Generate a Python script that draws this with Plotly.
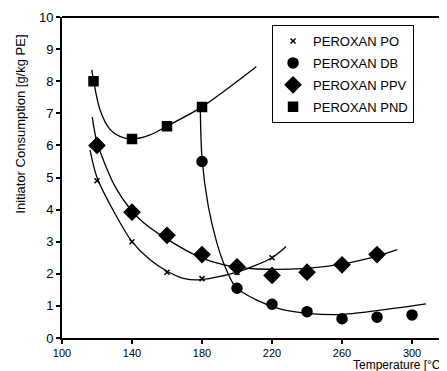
import plotly.graph_objects as go

# Measured points
po_x = [120, 140, 160, 180, 200, 220]
po_y = [4.9, 3.0, 2.05, 1.85, 2.05, 2.5]
db_x = [180, 200, 220, 240, 260, 280, 300]
db_y = [5.5, 1.55, 1.05, 0.82, 0.6, 0.65, 0.72]
ppv_x = [120, 140, 160, 180, 200, 220, 240, 260, 280]
ppv_y = [6.0, 3.92, 3.2, 2.6, 2.22, 1.95, 2.05, 2.28, 2.6]
pnd_x = [118, 140, 160, 180]
pnd_y = [8.0, 6.2, 6.6, 7.2]

# Fitted curves
po_cx = [116, 120, 130, 140, 150, 160, 170, 180, 200, 220, 228]
po_cy = [5.86, 5.0, 3.9, 3.0, 2.45, 2.08, 1.85, 1.82, 2.05, 2.5, 2.85]
db_cx = [179, 180, 183.6, 188.4, 192.6, 199, 211.6, 225, 240, 259, 280, 308]
db_cy = [7.2, 5.6, 4.1, 2.98, 2.3, 1.6, 1.17, 0.9, 0.77, 0.73, 0.85, 1.06]
ppv_cx = [117.3, 120, 130, 140, 146.5, 160, 179, 192.6, 211.6, 240, 260, 280, 291.6]
ppv_cy = [6.88, 6.1, 4.75, 3.95, 3.6, 3.08, 2.51, 2.28, 2.15, 2.17, 2.3, 2.55, 2.75]
pnd_cx = [117, 121.7, 127.4, 133, 140, 150, 160, 180, 211]
pnd_cy = [8.35, 7.11, 6.5, 6.28, 6.2, 6.32, 6.6, 7.2, 8.45]

x_ticks = [100, 140, 180, 220, 260, 300]
x_labels = ["100", "140", "180", "220", "260", "300"]
y_ticks = list(range(0, 11))

names = ["PEROXAN PO", "PEROXAN DB", "PEROXAN PPV", "PEROXAN PND"]
FONT = "Liberation Sans, Arial, sans-serif"

fig = go.Figure()

for cx, cy in [(po_cx, po_cy), (db_cx, db_cy), (ppv_cx, ppv_cy), (pnd_cx, pnd_cy)]:
    fig.add_trace(go.Scatter(x=cx, y=cy, mode="lines",
                             line=dict(color="black", width=1.3, shape="spline", smoothing=0.8),
                             showlegend=False, hoverinfo="skip"))

markers = [("x-thin", 5, po_x, po_y), ("circle", 10, db_x, db_y),
           ("diamond", 12, ppv_x, ppv_y), ("square", 9, pnd_x, pnd_y)]
for i, (sym, sz, xs, ys) in enumerate(markers):
    fig.add_trace(go.Scatter(x=xs, y=ys, mode="markers", name=names[i], legendgroup=names[i],
                             marker=dict(symbol=sym, size=sz, color="black",
                                         line=dict(color="black", width=1.5))))

# partial right frame line
fig.add_shape(type="line", xref="paper", yref="paper", x0=1, x1=1, y0=0, y1=0.67,
              line=dict(color="black", width=1))
# thick top frame line
fig.add_shape(type="line", xref="paper", yref="paper", x0=0, x1=1, y0=1, y1=1,
              line=dict(color="black", width=2))

fig.add_annotation(text="Initiator Consumption [g/kg PE]", textangle=-90, xref="paper", yref="paper",
                   x=-0.109, y=0.665, xanchor="center", yanchor="middle", showarrow=False,
                   font=dict(family=FONT, size=13, color="black"))
fig.add_annotation(text="Temperature [°C]", xref="paper", yref="paper", x=1.0, y=-0.055,
                   xanchor="right", yanchor="top", showarrow=False,
                   font=dict(family=FONT, size=12, color="black"))

fig.update_layout(
    width=439, height=363,
    margin=dict(l=54, r=1, t=9, b=32.5),
    paper_bgcolor="white", plot_bgcolor="white",
    font=dict(family=FONT, size=12, color="black"),
    legend=dict(x=0.547, y=0.975, xanchor="left", yanchor="top",
                bordercolor="black", borderwidth=1, bgcolor="white",
                font=dict(family=FONT, size=13, color="black"),
                tracegroupgap=2, entrywidth=130, itemwidth=30),
    xaxis=dict(range=[100, 319.4], tickvals=x_ticks, ticktext=x_labels, showgrid=False, zeroline=False,
               showline=True, linecolor="black", linewidth=2,
               ticks="outside", ticklen=4, tickcolor="black", tickwidth=1.5,
               tickfont=dict(size=11)),
    yaxis=dict(range=[0, 10], tickvals=y_ticks, showgrid=False, zeroline=False,
               showline=True, linecolor="black", linewidth=2,
               ticks="outside", ticklen=4, tickcolor="black", tickwidth=1.5,
               tickfont=dict(size=13)),
)

fig.write_html("out.html")
